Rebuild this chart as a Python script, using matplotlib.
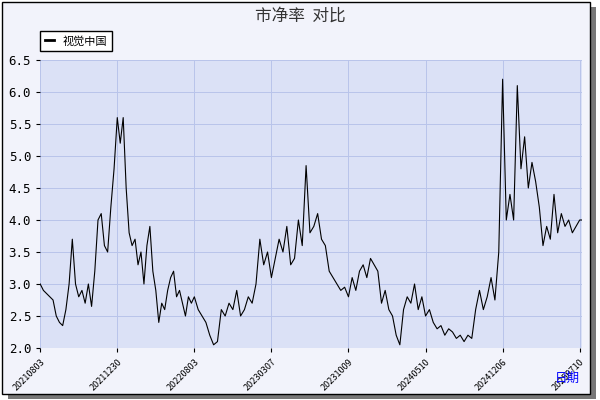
import matplotlib
matplotlib.use("Agg")
import matplotlib.pyplot as plt
import numpy as np

plt.rcParams['font.family'] = ['Noto Sans CJK SC', 'DejaVu Sans']

tick_labels = ["20210803", "20211230", "20220803", "20230307", "20231009", "20240510", "20241206", "20250710"]
seg1 = [3.0, 2.9, 2.85, 2.8, 2.75, 2.5, 2.4, 2.35, 2.6, 3.0, 3.7, 3.0, 2.8, 2.9, 2.7, 3.0, 2.65, 3.2, 4.0, 4.1, 3.6, 3.5, 4.2, 4.8]
seg2 = [5.6, 5.2, 5.6, 4.5, 3.8, 3.6, 3.7, 3.3, 3.5, 3.0, 3.6, 3.9, 3.2, 2.9, 2.4, 2.7, 2.6, 2.9, 3.1, 3.2, 2.8, 2.9, 2.7, 2.5, 2.8, 2.7]
seg3 = [2.8, 2.6, 2.5, 2.4, 2.2, 2.05, 2.1, 2.6, 2.5, 2.7, 2.6, 2.9, 2.5, 2.6, 2.8, 2.7, 3.0, 3.7, 3.3, 3.5]
seg4 = [3.1, 3.4, 3.7, 3.5, 3.9, 3.3, 3.4, 4.0, 3.6, 4.85, 3.8, 3.9, 4.1, 3.7, 3.6, 3.2, 3.1, 3.0, 2.9, 2.95]
seg5 = [2.8, 3.1, 2.9, 3.2, 3.3, 3.1, 3.4, 3.3, 3.2, 2.7, 2.9, 2.6, 2.5, 2.2, 2.05, 2.6, 2.8, 2.7, 3.0, 2.6, 2.8]
seg6 = [2.5, 2.6, 2.4, 2.3, 2.35, 2.2, 2.3, 2.25, 2.15, 2.2, 2.1, 2.2, 2.15, 2.6, 2.9, 2.6, 2.8, 3.1, 2.75, 3.5]
seg7 = [6.2, 4.0, 4.4, 4.0, 6.1, 4.8, 5.3, 4.5, 4.9, 4.6, 4.2, 3.6, 3.9, 3.7, 4.4, 3.8, 4.1, 3.9, 4.0, 3.8, 3.9]
seg8 = [4.0]
segments = [seg1, seg2, seg3, seg4, seg5, seg6, seg7, seg8]

xs, ys, tick_pos = [], [], []
for i, s in enumerate(segments):
    tick_pos.append(i)
    n = len(s)
    for j, v in enumerate(s):
        xs.append(i + j / n)
        ys.append(v)
xs.append(7.03); ys.append(4.0)

fig = plt.figure(figsize=(6, 4), dpi=100, facecolor='white')
bg = plt.Rectangle((0.003, 0.015), 0.98, 0.98, transform=fig.transFigure, facecolor='#f2f3fb', edgecolor='black', lw=1, zorder=-2)
sh = plt.Rectangle((0.013, 0.003), 0.98, 0.98, transform=fig.transFigure, facecolor='#777777', edgecolor='none', zorder=-3)
fig.patches.extend([sh, bg])
ax = fig.add_axes([0.067, 0.13, 0.903, 0.72])
ax.set_facecolor('#dbe1f6')
ax.plot(xs, ys, color='black', lw=0.8, label='视觉中国')
ax.set_xlim(0, 7.03)
ax.set_ylim(2.0, 6.5)
ax.set_yticks(np.arange(2.0, 6.51, 0.5))
ax.set_yticklabels([f"{v:.1f}" for v in np.arange(2.0, 6.51, 0.5)], family='DejaVu Sans Mono', fontsize=9)
ax.set_xticks(tick_pos)
ax.set_xticklabels(tick_labels, rotation=45, ha='right', rotation_mode='anchor', fontsize=6.5)
ax.grid(True, color='#b8c4ea', lw=0.7)
for s in ax.spines.values():
    s.set_visible(False)
ax.tick_params(length=3, color='black')
fig.text(0.5, 0.96, '市净率  对比', ha='center', va='center', fontsize=12, color='#333333')
fig.text(0.925, 0.045, '日期', color='blue', fontsize=9)
leg = ax.legend(loc='upper left', bbox_to_anchor=(-0.01, 1.12), fontsize=8, fancybox=False, edgecolor='black', framealpha=1, handlelength=0.8)
leg.get_frame().set_facecolor('white')
for h in leg.get_lines():
    h.set_linewidth(2)
fig.savefig('out.png', dpi=100, facecolor='white')
